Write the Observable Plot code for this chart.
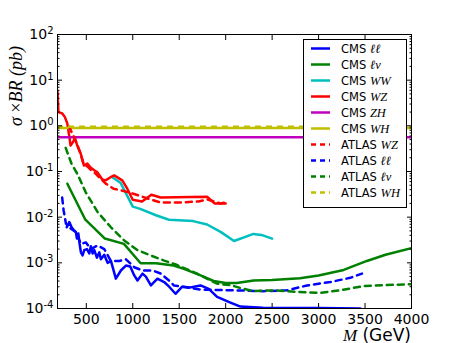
<!DOCTYPE html>
<html><head><meta charset="utf-8">
<script src="https://cdn.jsdelivr.net/npm/d3@7"></script>
<script src="https://cdn.jsdelivr.net/npm/@observablehq/plot@0.6"></script>
<style>body{margin:0;background:#fff}</style>
</head><body><div id="chart"></div>
<script>
// [M (GeV), sigma x BR (pb)]
const cmsLL = [[290,0.006],[317,0.0078],[342,0.006],[363,0.0053],[388,0.0047],[399,0.0034],[414,0.0044],[428,0.0026],[442,0.0017],[460,0.00145],[478,0.0019],[507,0.002],[532,0.0016],[549,0.0023],[568,0.0016],[586,0.0019],[614,0.0013],[640,0.0017],[657,0.0012],[693,0.0015],[729,0.001],[765,0.0011],[818,0.00045],[872,0.00068],[926,0.00087],[973,0.00083],[1016,0.00053],[1051,0.00041],[1105,0.00058],[1141,0.0005],[1195,0.00032],[1266,0.00045],[1338,0.00038],[1392,0.0003],[1460,0.00021],[1532,0.0003],[1621,0.00029],[1729,0.00032],[1818,0.00027],[1908,0.00018],[2051,0.000135],[2159,0.00011],[2400,0.000104],[3000,0.000102],[3450,0.0001]];
const cmsLNu = [[296,0.054],[490,0.0088],[700,0.0034],[905,0.0026],[1085,0.00098],[1250,0.00098],[1440,0.00087],[1550,0.00074],[1730,0.00053],[1870,0.0004],[2000,0.00036],[2120,0.00036],[2300,0.00041],[2500,0.00042],[2800,0.00046],[3000,0.00053],[3270,0.0007],[3520,0.0011],[3720,0.0015],[4000,0.0021]];
const cmsWW = [[780,0.075],[870,0.056],[1000,0.017],[1080,0.0152],[1250,0.011],[1390,0.0088],[1650,0.0082],[1800,0.0069],[1950,0.0047],[2090,0.0030],[2300,0.0043],[2400,0.0040],[2500,0.0034]];
const cmsWZ = [[190,5.8],[200,2.0],[242,1.86],[270,1.55],[296,1.12],[320,0.53],[331,0.37],[356,0.44],[377,0.53],[403,0.37],[439,0.25],[474,0.135],[511,0.15],[546,0.122],[589,0.105],[618,0.097],[672,0.067],[707,0.064],[761,0.075],[800,0.082],[887,0.064],[941,0.042],[1000,0.024],[1100,0.022],[1200,0.031],[1300,0.027],[1800,0.028],[1880,0.020],[2000,0.020]];
const cmsZH = [0.56];
const cmsWH = [0.9];
const atlasWZ = [[313,0.97],[385,0.48],[439,0.24],[474,0.14],[511,0.13],[546,0.11],[600,0.09],[650,0.07],[707,0.055],[793,0.042],[869,0.039],[998,0.033],[1159,0.0257],[1299,0.021],[1514,0.021],[1708,0.022],[1804,0.0245],[1944,0.020],[2000,0.021]];
const atlasLL = [[240,0.027],[256,0.014],[281,0.0072],[334,0.0056],[388,0.0047],[442,0.0026],[496,0.0028],[549,0.002],[622,0.0024],[693,0.002],[765,0.0011],[855,0.0011],[926,0.0012],[1016,0.0008],[1105,0.00068],[1213,0.00068],[1302,0.00058],[1409,0.00038],[1442,0.00032],[1729,0.00026],[2087,0.00025],[2400,0.00024],[2660,0.00025],[2876,0.00032],[3126,0.00038],[3341,0.00047],[3467,0.00058]];
const atlasLNu = [[278,0.33],[300,0.25],[340,0.15],[403,0.089],[494,0.035],[622,0.0129],[765,0.006],[908,0.0031],[1051,0.0019],[1194,0.00145],[1338,0.00112],[1463,0.00092],[1693,0.00058],[1908,0.00035],[2069,0.00032],[2159,0.00028],[2302,0.00024],[2517,0.00025],[2768,0.00023],[3019,0.00022],[3234,0.00025],[3485,0.00031],[3968,0.00034],[4000,0.00034]];
const atlasWH = [0.95];

const xTicks = [500,1000,1500,2000,2500,3000,3500,4000];
const yMajor = [1e-4,1e-3,1e-2,1e-1,1,10,100];
const yMinor = [];
for (let k = -4; k < 2; k++) for (let m = 2; m <= 9; m++) yMinor.push(m * Math.pow(10, k));

const series = [
  {kind:"line", data: cmsLL, color:"#0000ff", dash:null, label:["CMS ","ℓℓ"]},
  {kind:"line", data: cmsLNu, color:"#008000", dash:null, label:["CMS ","ℓν"]},
  {kind:"line", data: cmsWW, color:"#00bfbf", dash:null, label:["CMS ","WW"]},
  {kind:"line", data: cmsWZ, color:"#ff0000", dash:null, label:["CMS ","WZ"]},
  {kind:"rule", data: cmsZH, color:"#bf00bf", dash:null, label:["CMS ","ZH"]},
  {kind:"rule", data: cmsWH, color:"#bfbf00", dash:null, label:["CMS ","WH"]},
  {kind:"line", data: atlasWZ, color:"#ff0000", dash:"6,5", label:["ATLAS ","WZ"]},
  {kind:"line", data: atlasLL, color:"#0000ff", dash:"6,5", label:["ATLAS ","ℓℓ"]},
  {kind:"line", data: atlasLNu, color:"#008000", dash:"6,5", label:["ATLAS ","ℓν"]},
  {kind:"rule", data: atlasWH, color:"#bfbf00", dash:"6,5", label:["ATLAS ","WH"]}
];

const marks = series.map(s => s.kind === "line"
  ? Plot.line(s.data, {x: d => d[0], y: d => d[1], stroke: s.color, strokeWidth: 2.5, strokeDasharray: s.dash, strokeLinejoin:"round", clip: true})
  : Plot.ruleY(s.data, {y: d => d, stroke: s.color, strokeWidth: 2.5, strokeDasharray: s.dash}));

const blank = () => "";
const chart = Plot.plot({
  width: 457, height: 343,
  marginLeft: 57, marginRight: 46, marginTop: 34, marginBottom: 35,
  style: {fontFamily: "'DejaVu Sans', sans-serif", fontSize: "14px", background: "white", color: "black"},
  x: {type: "linear", domain: [190, 4000], label: null},
  y: {type: "log", domain: [1e-4, 1e2], label: null},
  marks: [
    ...marks,
    Plot.axisX({anchor: "bottom", ticks: xTicks, tickSize: -5, tickPadding: 11, tickFormat: d => String(d), label: null, fontSize: 14}),
    Plot.axisX({anchor: "top", ticks: xTicks, tickSize: -5, tickFormat: blank, label: null}),
    Plot.axisY({anchor: "left", ticks: yMajor, tickSize: -5, tickPadding: 9, tickFormat: d => "10^" + Math.round(Math.log10(d)), label: null, fontSize: 14}),
    Plot.axisY({anchor: "right", ticks: yMajor, tickSize: -5, tickFormat: blank, label: null}),
    Plot.axisY({anchor: "left", ticks: yMinor, tickSize: -2.5, tickFormat: blank, label: null}),
    Plot.axisY({anchor: "right", ticks: yMinor, tickSize: -2.5, tickFormat: blank, label: null}),
    Plot.frame({stroke: "black", strokeWidth: 1})
  ]
});
document.getElementById("chart").appendChild(chart);

const svg = d3.select(chart);
// superscript exponents on y tick labels
svg.selectAll('g[aria-label="y-axis tick label"] text').each(function() {
  const t = d3.select(this);
  const s = t.text();
  if (!s.startsWith("10^")) return;
  const e = s.slice(3);
  t.text("");
  t.append("tspan").text("10");
  t.append("tspan").attr("dy", "-0.5em").attr("font-size", "10px").text(e);
});

// axis labels
const ylab = svg.append("text")
  .attr("transform", "translate(22,86) rotate(-90)")
  .attr("text-anchor", "middle")
  .attr("font-size", 18)
  .attr("font-family", "'Liberation Serif', serif")
  .attr("font-style", "italic");
ylab.append("tspan").text("σ ");
ylab.append("tspan").attr("font-style", "normal").text("×");
ylab.append("tspan").text("BR (pb)");

const xlab = svg.append("text")
  .attr("x", 411).attr("y", 341)
  .attr("text-anchor", "end")
  .attr("font-size", 17);
xlab.append("tspan").attr("font-family", "'Liberation Serif', serif").attr("font-style", "italic").text("M");
xlab.append("tspan").attr("font-family", "'DejaVu Sans', sans-serif").text(" (GeV)");

// legend
const lg = svg.append("g").attr("text-anchor", "start");
lg.append("rect").attr("x", 303.5).attr("y", 39.5).attr("width", 103).attr("height", 168)
  .attr("fill", "white").attr("stroke", "black").attr("stroke-width", 1);
series.forEach((s, i) => {
  const y = 48.5 + 16 * i;
  lg.append("line").attr("x1", 311).attr("x2", 330).attr("y1", y).attr("y2", y)
    .attr("stroke", s.color).attr("stroke-width", 2.5).attr("stroke-dasharray", s.dash ? "5,4" : null);
  const t = lg.append("text").attr("x", 341).attr("y", y).attr("dy", "0.35em")
    .attr("text-anchor", "start").attr("font-size", 11.5);
  t.append("tspan").attr("font-family", "'DejaVu Sans', sans-serif").text(s.label[0]);
  t.append("tspan").attr("font-family", "'Liberation Serif', serif").attr("font-style", "italic").attr("font-size", 12.5).text(s.label[1]);
});
</script>
</body></html>
